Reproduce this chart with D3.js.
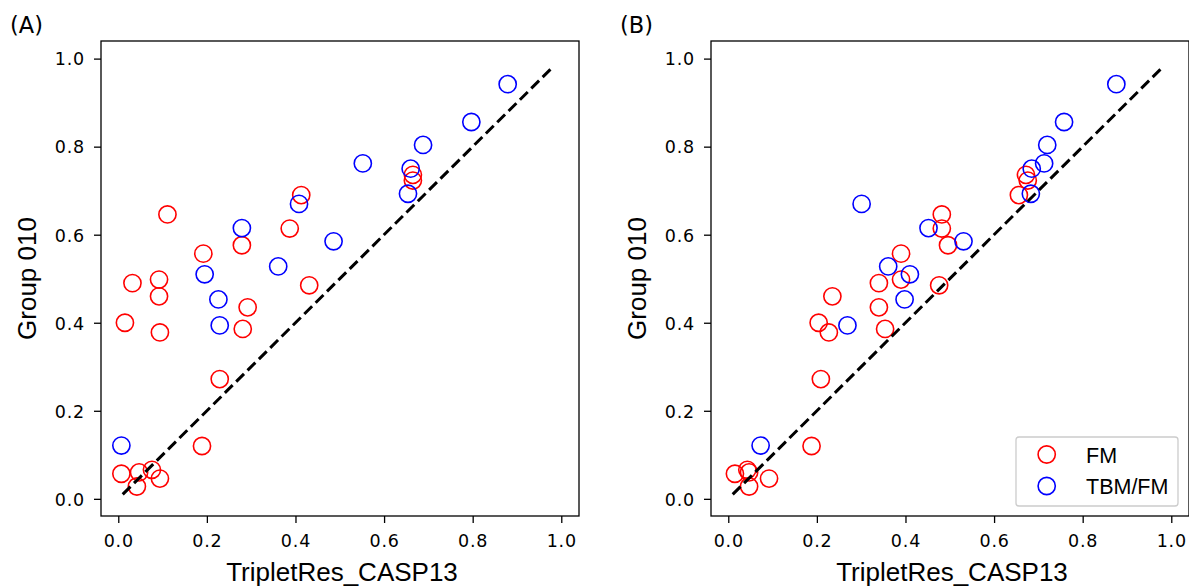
<!DOCTYPE html>
<html>
<head>
<meta charset="utf-8">
<script src="https://cdn.jsdelivr.net/npm/d3@7"></script>
<style>
  html, body { margin: 0; padding: 0; background: #fff; }
  svg { display: block; }
</style>
</head>
<body>
<svg id="chart" width="1189" height="587"></svg>
<script>
// ---- data ----
const seriesNames = ["FM", "TBM/FM"];
const panelLabels = ["(A)", "(B)"];
const xLabel = "TripletRes_CASP13";
const yLabel = "Group 010";
const tickValues = [0.0, 0.2, 0.4, 0.6, 0.8, 1.0];
const diagonal = [0.01, 0.98];

// FM points: Group 010 score (y) and x in panel A / panel B
const fmY  = [0.690, 0.646, 0.614, 0.576, 0.557, 0.490, 0.498, 0.485, 0.460, 0.435, 0.400, 0.378, 0.386, 0.272, 0.120, 0.057, 0.060, 0.066, 0.046, 0.028, 0.736, 0.723];
const fmXA = [0.413, 0.111, 0.387, 0.279, 0.192, 0.032, 0.092, 0.431, 0.092, 0.292, 0.015, 0.094, 0.281, 0.229, 0.189, 0.007, 0.047, 0.076, 0.094, 0.042, 0.665, 0.665];
const fmXB = [0.656, 0.482, 0.482, 0.496, 0.390, 0.340, 0.390, 0.476, 0.235, 0.340, 0.204, 0.227, 0.354, 0.209, 0.188, 0.015, 0.047, 0.043, 0.092, 0.047, 0.672, 0.676];

// TBM/FM points
const tbmY  = [0.762, 0.670, 0.615, 0.585, 0.528, 0.510, 0.453, 0.394, 0.121, 0.942, 0.856, 0.804, 0.750, 0.693];
const tbmXA = [0.552, 0.408, 0.279, 0.486, 0.361, 0.195, 0.226, 0.229, 0.007, 0.879, 0.797, 0.688, 0.660, 0.654];
const tbmXB = [0.713, 0.301, 0.452, 0.531, 0.361, 0.410, 0.398, 0.269, 0.073, 0.876, 0.758, 0.720, 0.685, 0.683];

// ---- layout / style ----
const colors = ["#ff0000", "#0000ff"];
const plotW = 478, plotH = 475, plotTop = 41;
const lefts = [101, 711];
const domain = [-0.039, 1.040];
const r = 8.6;

const svg = d3.select("#chart");

const panels = [
  { fm: fmXA, tbm: tbmXA },
  { fm: fmXB, tbm: tbmXB }
];

panels.forEach((p, i) => {
  const g = svg.append("g").attr("transform", `translate(${lefts[i]},${plotTop})`);
  const x = d3.scaleLinear().domain(domain).range([0, plotW]);
  const y = d3.scaleLinear().domain(domain).range([plotH, 0]);

  const clipId = "clip" + i;
  g.append("clipPath").attr("id", clipId)
    .append("rect").attr("width", plotW).attr("height", plotH);

  const plot = g.append("g").attr("clip-path", `url(#${clipId})`);

  const fmPts = p.fm.map((v, k) => ({ x: v, y: fmY[k] }));
  const tbmPts = p.tbm.map((v, k) => ({ x: v, y: tbmY[k] }));

  [fmPts, tbmPts].forEach((pts, s) => {
    plot.selectAll(null).data(pts).enter().append("circle")
      .attr("cx", d => x(d.x))
      .attr("cy", d => y(d.y))
      .attr("r", r)
      .attr("fill", "none")
      .attr("stroke", colors[s])
      .attr("stroke-width", 1.6);
  });

  plot.append("line")
    .attr("x1", x(diagonal[0])).attr("y1", y(diagonal[0]))
    .attr("x2", x(diagonal[1])).attr("y2", y(diagonal[1]))
    .attr("stroke", "#000").attr("stroke-width", 3)
    .attr("stroke-dasharray", "11,5");

  const fmt = d3.format(".1f");
  const xa = g.append("g").attr("transform", `translate(0,${plotH})`)
    .call(d3.axisBottom(x).tickValues(tickValues).tickFormat(fmt).tickSize(7));
  const ya = g.append("g")
    .call(d3.axisLeft(y).tickValues(tickValues).tickFormat(fmt).tickSize(7));
  [xa, ya].forEach(a => {
    a.select(".domain").remove();
    a.selectAll(".tick line").attr("stroke", "#000").attr("stroke-width", 1.3);
    a.selectAll(".tick text")
      .attr("font-family", "DejaVu Sans")
      .attr("font-size", "17.5px")
      .attr("letter-spacing", "0.8px")
      .attr("fill", "#000");
  });
  xa.selectAll(".tick text").attr("y", 31).attr("dy", 0);
  ya.selectAll(".tick text").attr("x", -16).attr("dy", "0.36em");

  g.append("rect").attr("width", plotW).attr("height", plotH)
    .attr("fill", "none").attr("stroke", "#000").attr("stroke-width", 1.3);

  g.append("text")
    .attr("x", plotW / 2 + 2).attr("y", 581 - plotTop)
    .attr("text-anchor", "middle")
    .attr("font-family", "Liberation Sans, Arial, sans-serif")
    .attr("font-size", "26px")
    .attr("fill", "#000")
    .text(xLabel);

  g.append("text")
    .attr("transform", `translate(${-65},${plotH / 2}) rotate(-90)`)
    .attr("text-anchor", "middle")
    .attr("font-family", "Liberation Sans, Arial, sans-serif")
    .attr("font-size", "26px")
    .attr("fill", "#000")
    .text(yLabel);

  g.append("text")
    .attr("x", -91).attr("y", 33 - plotTop)
    .attr("font-family", "DejaVu Sans")
    .attr("font-size", "22.5px")
    .attr("fill", "#000")
    .text(panelLabels[i]);

  if (i === 1) {
    const lg = svg.append("g");
    lg.append("rect")
      .attr("x", 1016).attr("y", 437).attr("width", 162).attr("height", 69)
      .attr("rx", 3).attr("ry", 3)
      .attr("fill", "#fff").attr("fill-opacity", 0.8)
      .attr("stroke", "#cccccc").attr("stroke-width", 1.3);
    const items = lg.selectAll(null).data(seriesNames).enter().append("g")
      .attr("transform", (d, k) => `translate(1046.7,${454.5 + k * 31.5})`);
    items.append("circle")
      .attr("r", r).attr("fill", "none")
      .attr("stroke", (d, k) => colors[k]).attr("stroke-width", 1.6);
    items.append("text")
      .attr("x", 39.3).attr("y", 8)
      .attr("font-family", "Liberation Sans, Arial, sans-serif")
      .attr("font-size", "21.5px")
      .attr("fill", "#000")
      .text(d => d);
  }
});
</script>
</body>
</html>
